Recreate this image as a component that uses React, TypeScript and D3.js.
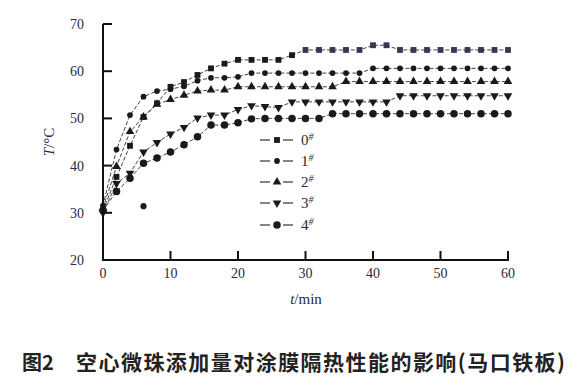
import React from "react";
import * as d3 from "d3";

const times = [0, 2, 4, 6, 8, 10, 12, 14, 16, 18, 20, 22, 24, 26, 28, 30, 32, 34, 36, 38, 40, 42, 44, 46, 48, 50, 52, 54, 56, 58, 60];

const s0 = [30.5, 37.6, 44.2, 50.3, 53.2, 56.7, 57.7, 59.2, 60.6, 61.6, 62.4, 62.4, 62.4, 62.4, 63.4, 64.5, 64.5, 64.5, 64.5, 64.5, 65.5, 65.5, 64.5, 64.5, 64.5, 64.5, 64.5, 64.5, 64.5, 64.5, 64.5];
const s1 = [31.5, 43.4, 50.7, 54.6, 55.8, 56.2, 56.8, 58.0, 58.6, 58.6, 58.8, 59.6, 59.6, 59.6, 59.6, 59.6, 59.6, 59.6, 59.6, 59.6, 60.6, 60.6, 60.6, 60.6, 60.6, 60.6, 60.6, 60.6, 60.6, 60.6, 60.6];
const s2 = [31.0, 39.8, 47.2, 50.3, 53.0, 54.0, 54.9, 55.8, 56.0, 56.0, 56.7, 56.7, 56.7, 56.7, 56.7, 56.7, 56.7, 56.7, 57.8, 57.8, 57.8, 57.8, 57.8, 57.8, 57.8, 57.8, 57.8, 57.8, 57.8, 57.8, 57.8];
const s3 = [30.0, 36.2, 38.4, 42.9, 44.9, 46.7, 48.1, 50.1, 50.7, 50.7, 51.9, 52.7, 52.5, 52.3, 53.5, 53.5, 53.5, 53.5, 53.5, 53.5, 53.5, 53.5, 54.8, 54.8, 54.8, 54.8, 54.8, 54.8, 54.8, 54.8, 54.8];
const s4 = [30.5, 34.5, 37.3, 40.5, 41.6, 42.9, 44.4, 46.1, 48.6, 48.6, 49.1, 49.9, 50.0, 50.0, 50.0, 50.0, 50.0, 51.0, 51.0, 51.0, 51.0, 51.0, 51.0, 51.0, 51.0, 51.0, 51.0, 51.0, 51.0, 51.0, 51.0];
const strayPoint = [{ t: 6, v: 31.4 }];

const seriesNames = ["0", "1", "2", "3", "4"];
const seriesValues = [s0, s1, s2, s3, s4];

const xTicks = [0, 10, 20, 30, 40, 50, 60];
const yTicks = [20, 30, 40, 50, 60, 70];

const caption1 = "图2";
const caption2 = "空心微珠添加量对涂膜隔热性能的影响(马口铁板)";

const x = d3.scaleLinear().domain([0, 60]).range([103, 508]);
const y = d3.scaleLinear().domain([20, 70]).range([260, 24]);

const symbolDefs = [
  { type: d3.symbolSquare, size: 34, rot: 0 },
  { type: d3.symbolCircle, size: 26, rot: 0 },
  { type: d3.symbolTriangle, size: 32, rot: 0 },
  { type: d3.symbolTriangle, size: 32, rot: 180 },
  { type: d3.symbolCircle, size: 44, rot: 0 },
];

const serif = "'Liberation Serif', 'DejaVu Serif', serif";
const textColor = "#2a2a3a";

export default function App() {
  const line = d3
    .line<number>()
    .x((_, i) => x(times[i]))
    .y((d) => y(d));

  const legendY = [140, 161, 182, 203, 225];

  return (
    <svg width={579} height={375} style={{ display: "block", background: "#fff" }}>
      <g transform="translate(-8,-8)">
        {seriesValues.map((vals, si) => (
          <path
            key={"l" + si}
            d={line(vals) || ""}
            fill="none"
            stroke="#444"
            strokeWidth={1}
            strokeDasharray="4,2"
          />
        ))}
        {seriesValues.map((vals, si) => {
          const def = symbolDefs[si];
          const p = d3.symbol().type(def.type).size(def.size)() || "";
          return vals.map((v, i) => (
            <path
              key={"m" + si + "-" + i}
              d={p}
              transform={`translate(${x(times[i])},${y(v)}) rotate(${def.rot})`}
              fill={si === 0 && times[i] >= 30 ? "#3e3352" : "#1a1a1a"}
            />
          ));
        })}
        {strayPoint.map((pt, i) => (
          <path
            key={"st" + i}
            d={d3.symbol().type(d3.symbolCircle).size(30)() || ""}
            transform={`translate(${x(pt.t)},${y(pt.v)})`}
            fill="#1a1a1a"
          />
        ))}

        <line x1={x(0)} x2={x(0)} y1={y(70)} y2={y(20) + 1} stroke="#111" strokeWidth={2} />
        <line x1={x(0) - 1} x2={x(60) + 1} y1={y(20)} y2={y(20)} stroke="#111" strokeWidth={2} />
        {yTicks.map((t) => (
          <g key={"yt" + t}>
            {t !== 20 && (
              <line x1={x(0)} x2={x(0) + 9} y1={y(t)} y2={y(t)} stroke="#111" strokeWidth={2} />
            )}
            <text
              x={x(0) - 19}
              y={y(t)}
              dy="0.35em"
              textAnchor="end"
              fontFamily={serif}
              fontSize={14}
              fill={textColor}
            >
              {t}
            </text>
          </g>
        ))}
        {xTicks.map((t) => (
          <g key={"xt" + t}>
            {t !== 0 && (
              <line x1={x(t)} x2={x(t)} y1={y(20)} y2={y(20) - 9} stroke="#111" strokeWidth={2} />
            )}
            <text
              x={x(t)}
              y={y(20) + 18}
              textAnchor="middle"
              fontFamily={serif}
              fontSize={14}
              fill={textColor}
            >
              {t}
            </text>
          </g>
        ))}

        <text
          transform={`translate(54,142) rotate(-90)`}
          textAnchor="middle"
          fontFamily={serif}
          fontSize={15}
          fill={textColor}
        >
          <tspan fontStyle="italic">T</tspan>/°C
        </text>
        <text x={306} y={304} textAnchor="middle" fontFamily={serif} fontSize={15} fill={textColor}>
          <tspan fontStyle="italic">t</tspan>/min
        </text>

        {seriesNames.map((nm, si) => {
          const def = symbolDefs[si];
          const p = d3.symbol().type(def.type).size(def.size)() || "";
          const ly = legendY[si];
          return (
            <g key={"lg" + si}>
              <line x1={260} x2={270} y1={ly} y2={ly} stroke="#333" strokeWidth={1.2} />
              <line x1={283} x2={293} y1={ly} y2={ly} stroke="#333" strokeWidth={1.2} />
              <path d={p} transform={`translate(277,${ly}) rotate(${def.rot})`} fill="#1a1a1a" />
              <text x={301} y={ly} dy="0.35em" fontFamily={serif} fontSize={15} fill={textColor}>
                {nm}
                <tspan fontStyle="italic" fontSize={10} dy={-5}>#</tspan>
              </text>
            </g>
          );
        })}

        <text x={22} y={370} fontFamily="'Noto Sans CJK SC', sans-serif" fontWeight={700} fontSize={20} fill="#222">
          {caption1}
        </text>
        <text
          x={76}
          y={370}
          fontFamily="'Noto Sans CJK SC', sans-serif"
          fontWeight={700}
          fontSize={21}
          fill="#222"
          textLength={489}
          lengthAdjust="spacing"
        >
          {caption2}
        </text>
      </g>
    </svg>
  );
}
